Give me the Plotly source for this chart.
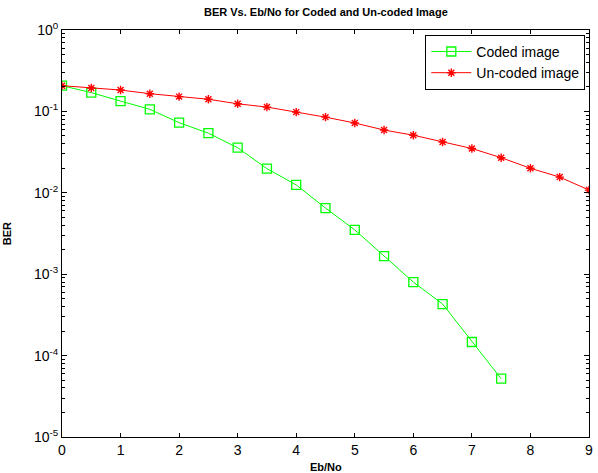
import plotly.graph_objects as go

ebno = [0, 0.5, 1, 1.5, 2, 2.5, 3, 3.5, 4, 4.5, 5, 5.5, 6, 6.5, 7, 7.5, 8, 8.5, 9]
ber_coded = [0.207, 0.17, 0.134, 0.106, 0.0727, 0.054, 0.0358, 0.0198, 0.0125, 0.0065,
             0.0035, 0.00167, 0.00080, 0.00043, 0.000147, 0.000052]
ber_uncoded = [0.207, 0.194, 0.183, 0.165, 0.152, 0.141, 0.124, 0.113, 0.098, 0.085,
               0.072, 0.059, 0.051, 0.042, 0.035, 0.027, 0.020, 0.0156, 0.0108]
y_tickvals = [1, 1e-1, 1e-2, 1e-3, 1e-4, 1e-5]
y_ticktext = ["10<sup>0</sup>", "10<sup>-1</sup>", "10<sup>-2</sup>", "10<sup>-3</sup>",
              "10<sup>-4</sup>", "10<sup>-5</sup>"]
x_tickvals = [0, 1, 2, 3, 4, 5, 6, 7, 8, 9]

minor_y = [m * 10 ** e for e in range(-5, 0) for m in range(2, 10)]

FONT = "Arial, Liberation Sans, sans-serif"

fig = go.Figure()
fig.add_trace(go.Scatter(
    x=ebno[:len(ber_coded)], y=ber_coded, mode="lines+markers", name="Coded image",
    line=dict(color="#00ff00", width=1),
    marker=dict(symbol="square-open", size=9, color="#00ff00", line=dict(width=1.3, color="#00ff00")),
))
fig.add_trace(go.Scatter(
    x=ebno, y=ber_uncoded, mode="lines+markers", name="Un-coded image",
    line=dict(color="#ff0000", width=1),
    marker=dict(symbol="asterisk-open", size=7, color="#ff0000", line=dict(width=1.4, color="#ff0000")),
))

fig.update_layout(
    width=598, height=473,
    paper_bgcolor="white", plot_bgcolor="white",
    margin=dict(l=62, r=9, t=30, b=36, autoexpand=False),
    font=dict(family=FONT, size=14, color="black"),
    title=dict(text="<b>BER Vs. Eb/No for Coded and Un-coded Image</b>",
               font=dict(family=FONT, size=11, color="black"),
               x=0.545, xanchor="center", y=0.975, yanchor="middle", automargin=False),
    showlegend=True,
    legend=dict(x=0.993, y=0.988, xanchor="right", yanchor="top",
                bgcolor="white", bordercolor="black", borderwidth=1,
                font=dict(family=FONT, size=14, color="black"),
                tracegroupgap=0, itemwidth=40),
    annotations=[
        dict(text="<b>BER</b>", xref="paper", yref="paper", x=-0.105, y=0.5, textangle=-90,
             showarrow=False, xanchor="center", yanchor="middle",
             font=dict(family=FONT, size=11, color="black")),
        dict(text="<b>Eb/No</b>", xref="paper", yref="paper", x=0.5, y=-0.055,
             showarrow=False, xanchor="center", yanchor="top",
             font=dict(family=FONT, size=11, color="black")),
    ],
    xaxis=dict(range=[0, 9], tickmode="array", tickvals=x_tickvals,
               ticks="inside", ticklen=4, tickcolor="black", mirror="ticks", automargin=False,
               showline=True, linecolor="black", linewidth=1, showgrid=False, zeroline=False,
               tickfont=dict(family=FONT, size=14, color="black")),
    yaxis=dict(type="log", range=[-5, 0], tickmode="array", tickvals=y_tickvals,
               ticktext=y_ticktext, ticks="inside", ticklen=5, tickcolor="black",
               mirror="ticks", automargin=False, showline=True, linecolor="black",
               linewidth=1, showgrid=False, zeroline=False,
               tickfont=dict(family=FONT, size=14, color="black"),
               minor=dict(tickmode="array", tickvals=minor_y, ticks="inside", ticklen=3,
                          tickcolor="black", tickwidth=1, showgrid=False)),
)

fig.write_html("out.html", config={"displayModeBar": False},
               post_script="document.body.style.margin='0';")
